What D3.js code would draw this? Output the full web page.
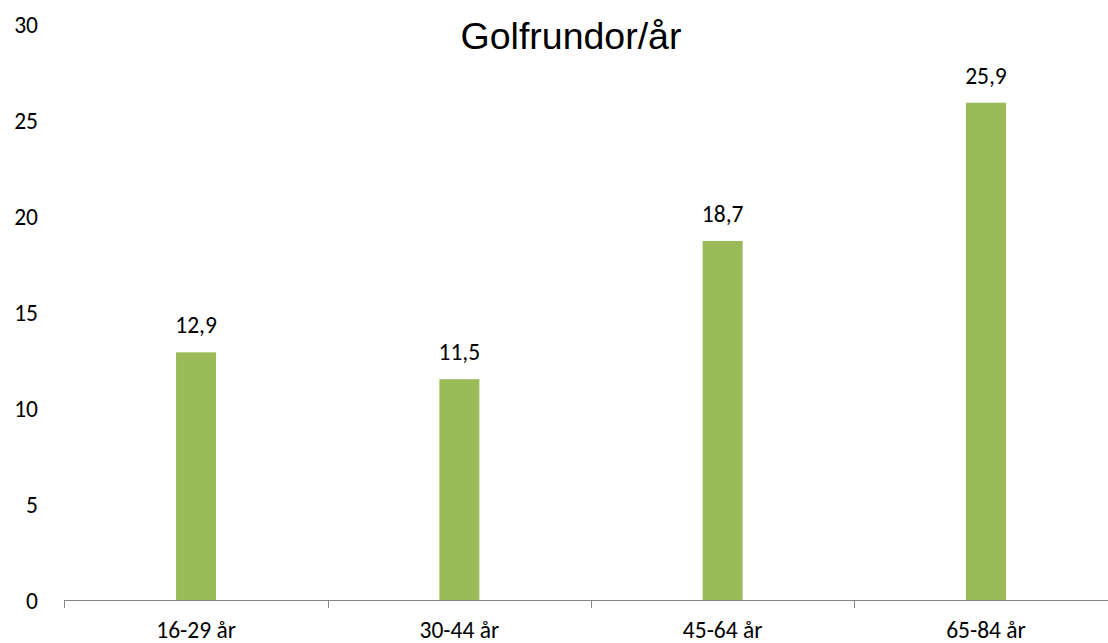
<!DOCTYPE html>
<html>
<head>
<meta charset="utf-8">
<script src="https://cdn.jsdelivr.net/npm/d3@7"></script>
<style>
  html, body { margin: 0; padding: 0; background: #fff; }
  svg { display: block; }
</style>
</head>
<body>
<svg id="chart" width="1108" height="643"></svg>
<script>
const title = "Golfrundor/år";
const categories = ["16-29 år", "30-44 år", "45-64 år", "65-84 år"];
const values = [12.9, 11.5, 18.7, 25.9];
const yTicks = [0, 5, 10, 15, 20, 25, 30];

const svg = d3.select("#chart");
const labelFont = "Carlito, Calibri, Lato, sans-serif";
const fs = 23.5;

const y = d3.scaleLinear().domain([0, 30]).range([600, 24]);
const x = d3.scaleBand().domain(categories).range([64.4, 1117.6]).padding(0);
const barW = x.bandwidth() * 0.152;

// Title
svg.append("text")
  .attr("x", 571).attr("y", 49)
  .attr("text-anchor", "middle")
  .attr("font-family", "Liberation Sans, Arial, sans-serif")
  .attr("font-size", 37.5)
  .attr("fill", "#000")
  .text(title);

// Y axis labels (no line)
const yAxis = d3.axisLeft(y).tickValues(yTicks).tickSize(0).tickPadding(0).tickFormat(d3.format("d"));
const gy = svg.append("g").attr("transform", "translate(38,0)").call(yAxis);
gy.select(".domain").remove();
gy.selectAll("text")
  .attr("font-family", labelFont)
  .attr("font-size", fs)
  .attr("fill", "#000")
  .attr("dy", "0.35em");

// Bars
svg.append("g").selectAll("rect")
  .data(values)
  .join("rect")
  .attr("x", (d, i) => x(categories[i]) + (x.bandwidth() - barW) / 2)
  .attr("width", barW)
  .attr("y", d => y(d))
  .attr("height", d => y(0) - y(d))
  .attr("fill", "#9BBB59");

// Data labels
svg.append("g").selectAll("text")
  .data(values)
  .join("text")
  .attr("x", (d, i) => x(categories[i]) + x.bandwidth() / 2)
  .attr("y", d => y(d) - 19)
  .attr("text-anchor", "middle")
  .attr("font-family", labelFont)
  .attr("font-size", fs)
  .attr("fill", "#000")
  .text(d => d3.format(".1f")(d).replace(".", ","));

// X axis line and boundary ticks
const gx = svg.append("g");
const r = x.range();
gx.append("line")
  .attr("x1", r[0]).attr("x2", r[1])
  .attr("y1", y(0) + 0.5).attr("y2", y(0) + 0.5)
  .attr("stroke", "#868686").attr("stroke-width", 1);
const bounds = categories.map(c => x(c)).concat([r[1]]);
gx.selectAll("line.tick")
  .data(bounds)
  .join("line")
  .attr("class", "tick")
  .attr("x1", d => Math.round(d) + 0.5).attr("x2", d => Math.round(d) + 0.5)
  .attr("y1", y(0)).attr("y2", y(0) + 8)
  .attr("stroke", "#868686").attr("stroke-width", 1);
gx.selectAll("text")
  .data(categories)
  .join("text")
  .attr("x", d => x(d) + x.bandwidth() / 2)
  .attr("y", 638)
  .attr("text-anchor", "middle")
  .attr("font-family", labelFont)
  .attr("font-size", fs)
  .attr("fill", "#000")
  .text(d => d);
</script>
</body>
</html>
